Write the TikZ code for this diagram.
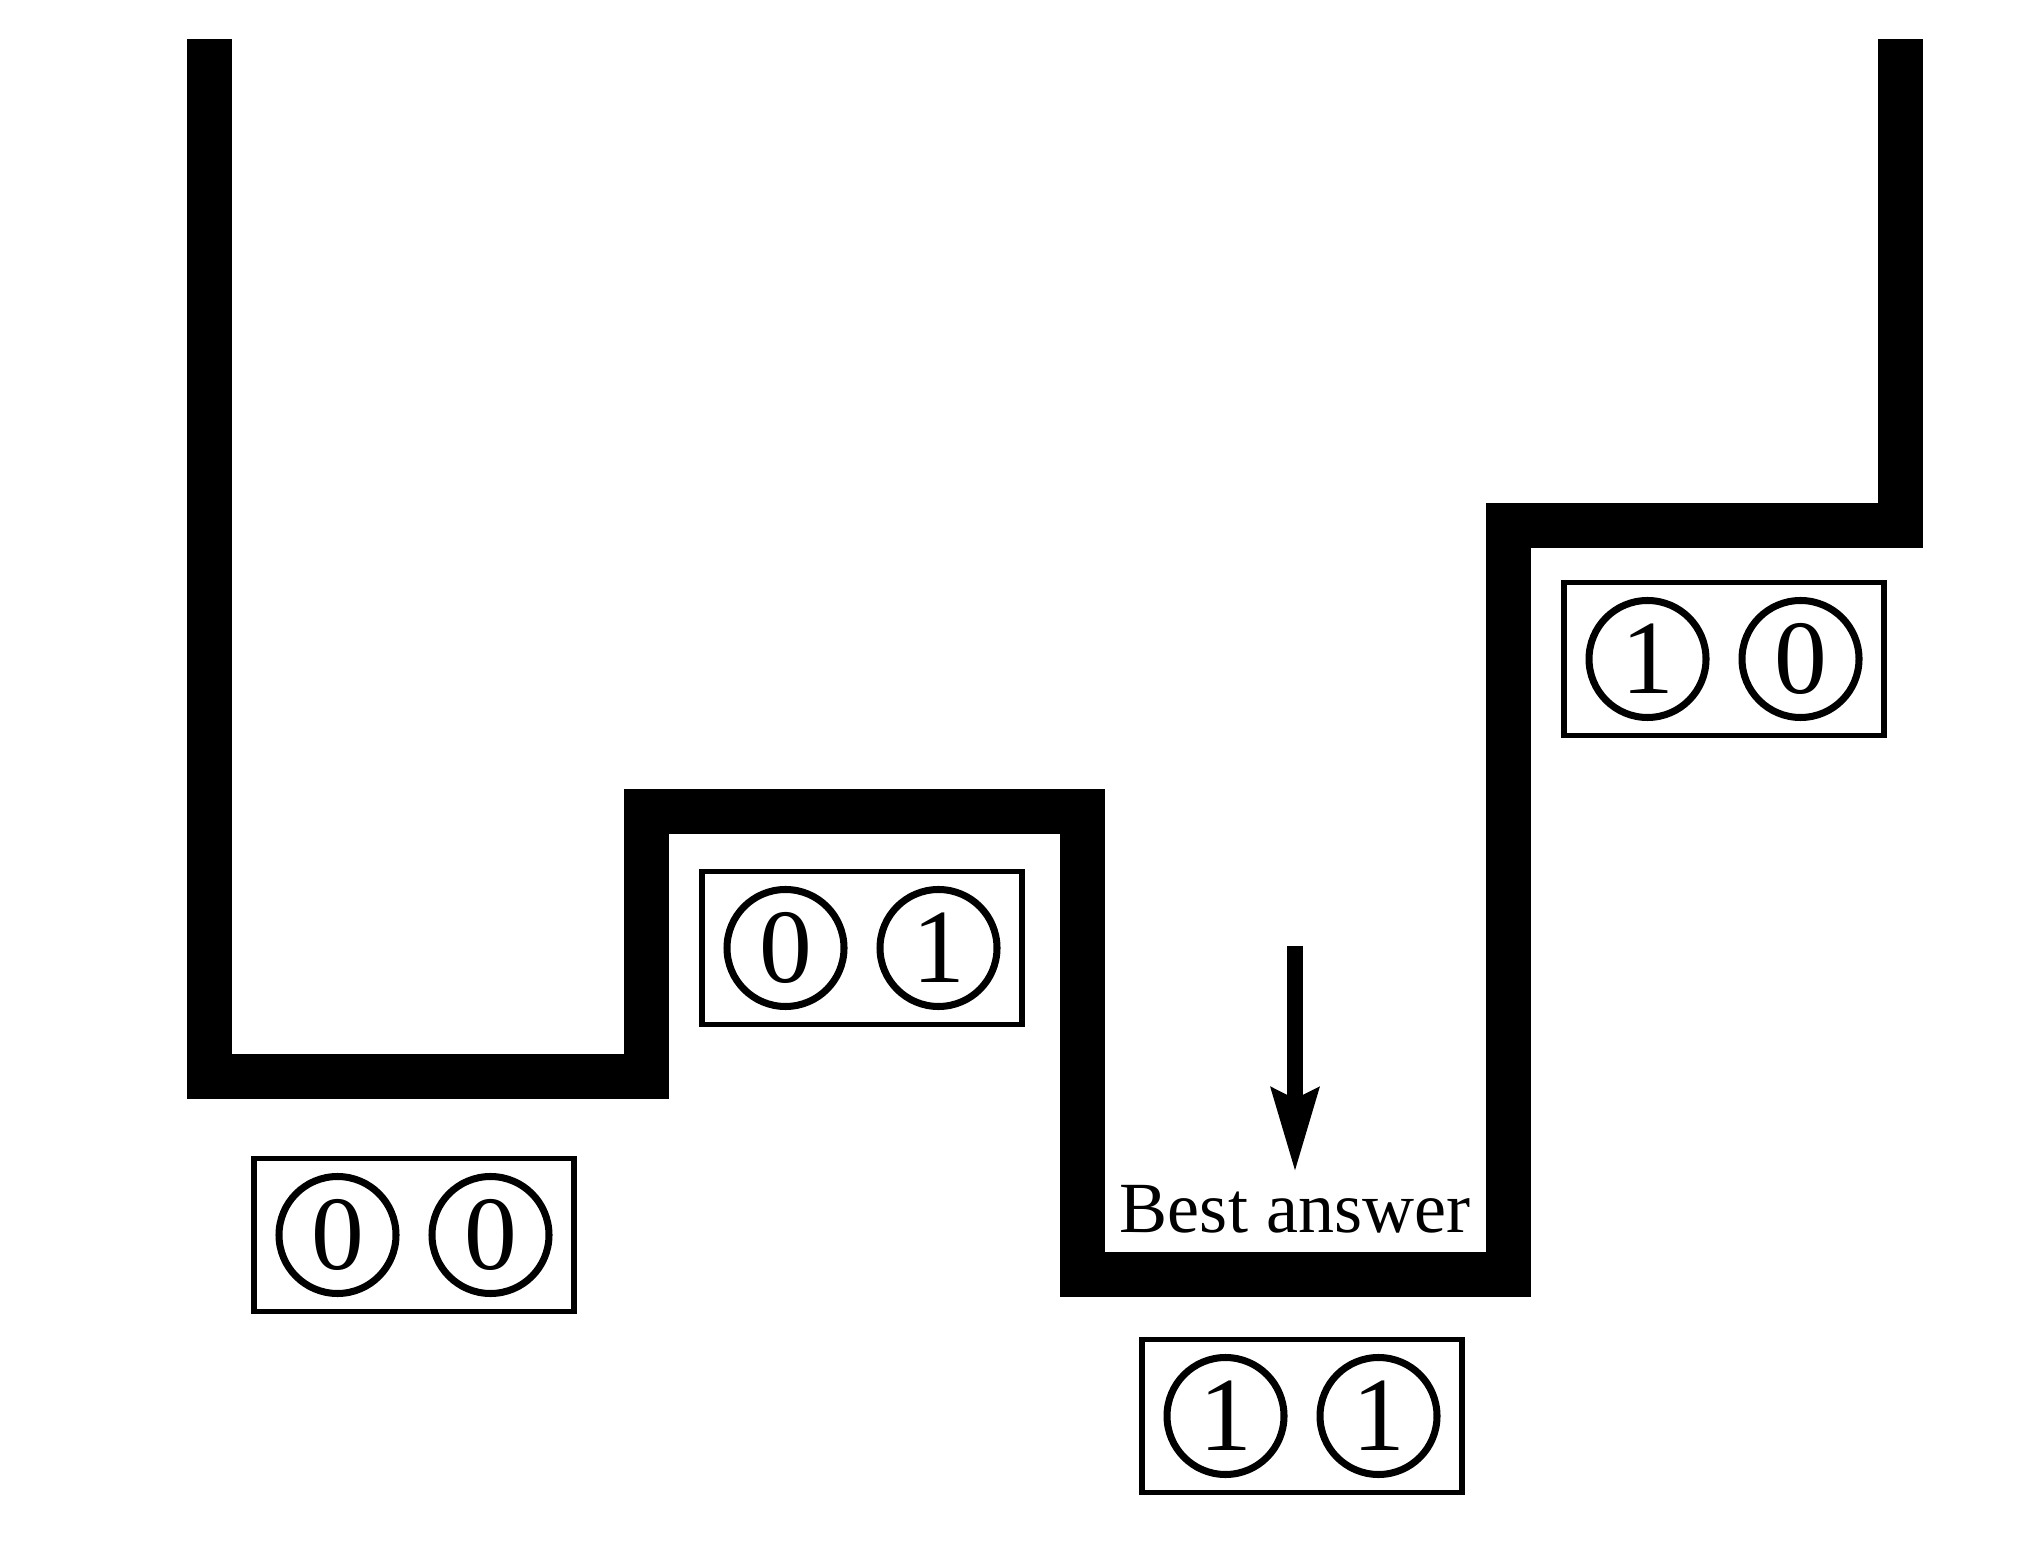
\documentclass[tikz,border=0pt]{standalone}
\usepackage{fontspec}
\setmainfont{Liberation Serif}
\usetikzlibrary{arrows.meta}
\tikzset{
    wall/.style={line width=4.5mm, line join=miter},
    statebox/.style={draw, line width=1.5pt, minimum width=3.2cm, minimum height=1.53cm},
    bit/.style={draw, circle, line width=2pt, minimum size=1.17cm, inner sep=0pt,
        font=\fontsize{30}{36}\selectfont},
    pointer/.style={-{Stealth[length=8.3mm, width=4.6mm, inset=1mm]}, line width=1.6mm},
}
% box with two bits: name, position, left bit, right bit
\newcommand{\statepair}[4]{%
    \node[statebox] (#1) at #2 {};
    \node[bit] (#1l) at ([xshift=-7.65mm]#1.center) {#3};
    \node[bit] (#1r) at ([xshift=7.65mm]#1.center) {#4};
}
\begin{document}
\begin{tikzpicture}
    \useasboundingbox (0,0) rectangle (20.44,15.44);
    % energy landscape
    \draw[wall] (2.09,15.05) -- (2.09,4.68) -- (6.46,4.68) -- (6.46,7.32)
      -- (10.82,7.32) -- (10.82,2.70) -- (15.08,2.70) -- (15.08,10.18)
      -- (19.00,10.18) -- (19.00,15.05);
    % states
    \statepair{s00}{(4.14,3.09)}{0}{0}
    \statepair{s01}{(8.62,5.96)}{0}{1}
    \statepair{s11}{(13.02,1.28)}{1}{1}
    \statepair{s10}{(17.24,8.85)}{1}{0}
    % best answer
    \node[anchor=base, inner sep=0pt, font=\fontsize{20.5}{25}\selectfont] (best) at (12.95,3.12) {Best answer};
    \coordinate (arrtop) at (12.95,5.98);
    \draw[pointer, shorten >=1.2mm] (arrtop) -- (best.north);
\end{tikzpicture}
\end{document}
